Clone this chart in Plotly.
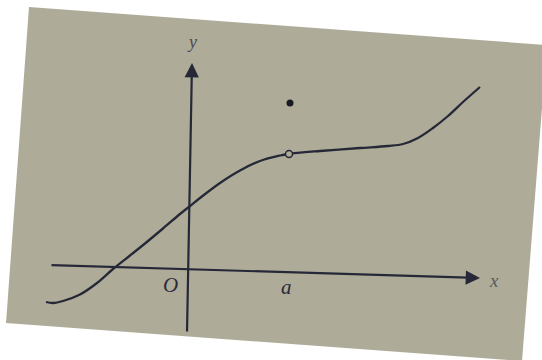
import plotly.graph_objects as go

# Curve f(x) (math units, a = 2)
curve_x = [-2.84, -2.70, -2.50, -2.16, -1.82, -1.50, -1.16, -0.86, -0.50, -0.16, 0.04, 0.24, 0.64, 1.04, 1.44, 1.84, 2.0,
           2.64, 3.44, 4.00, 4.30, 4.60, 4.90, 5.20, 5.50, 5.84]
curve_y = [-0.68, -0.70, -0.66, -0.53, -0.30, -0.02, 0.25, 0.49, 0.79, 1.08, 1.24, 1.40, 1.70, 1.95, 2.14, 2.25, 2.28,
           2.34, 2.40, 2.44, 2.48, 2.60, 2.80, 3.04, 3.32, 3.62]

# special points at x = a
a_value = 2.02
hole_y = [2.28]
filled_y = [3.30]

# axes (slightly tilted as in the photo)
xaxis_start = (-2.76, 0.06)
xaxis_end = (5.84, -0.20)
yaxis_start = (-0.02, -1.30)
yaxis_end = (0.08, 4.10)

ink = "#262838"
paper_color = "rgb(174,172,153)"

fig = go.Figure()

fig.add_trace(go.Scatter(x=curve_x, y=curve_y, mode="lines",
                         line=dict(color=ink, width=2.3, shape="spline", smoothing=1.0),
                         hoverinfo="skip", showlegend=False))
fig.add_trace(go.Scatter(x=[a_value], y=hole_y, mode="markers",
                         marker=dict(size=7, color=paper_color, line=dict(color=ink, width=1.5)),
                         showlegend=False))
fig.add_trace(go.Scatter(x=[a_value + 0.02], y=filled_y, mode="markers",
                         marker=dict(size=7, color="#1a1a24"), showlegend=False))

for (sx, sy), (ex, ey) in [(xaxis_start, xaxis_end), (yaxis_start, yaxis_end)]:
    fig.add_annotation(x=ex, y=ey, ax=sx, ay=sy, xref="x", yref="y", axref="x", ayref="y",
                       text="", showarrow=True, arrowhead=2, arrowsize=1.3, arrowwidth=2.2,
                       arrowcolor=ink)

labels = [("x", 6.12, -0.24, 19, "#5a5a60"), ("y", 0.08, 4.52, 18, "#4a4a55"),
          ("O", -0.36, -0.34, 21, "#2a2a3a"), ("a", 1.96, -0.38, 21, "#2a2a3a")]
for t, lx, ly, sz, col in labels:
    fig.add_annotation(x=lx, y=ly, xref="x", yref="y", text=t, showarrow=False,
                       font=dict(family="Liberation Serif", size=sz, color=col, style="italic"))

# tilted sheet of paper
corners = [(29, 7), (547, 45), (522, 361), (6, 323)]
path = "M " + " L ".join(f"{cx/542:.4f},{1 - cy/360:.4f}" for cx, cy in corners) + " Z"
fig.add_shape(type="path", path=path, xref="paper", yref="paper",
              fillcolor=paper_color, line=dict(width=0), layer="below")

fig.update_layout(
    width=542, height=360,
    margin=dict(l=0, r=0, t=0, b=0),
    paper_bgcolor="white", plot_bgcolor="white",
    xaxis=dict(range=[-3.76, 7.08], visible=False, fixedrange=True),
    yaxis=dict(range=[-1.84, 5.36], visible=False, fixedrange=True),
)

fig.write_html("out.html", config={"displayModeBar": False},
               post_script="document.body.style.margin='0';document.body.style.overflow='hidden';")
